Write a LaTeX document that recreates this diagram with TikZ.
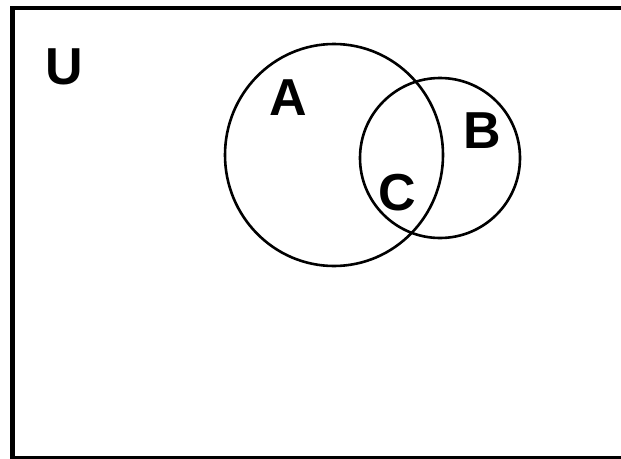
\documentclass[tikz,border=0pt]{standalone}
\usepackage{fontspec}
\setmainfont{Liberation Sans}
\begin{document}
\begin{tikzpicture}[x=1pt,y=-1pt,
  setlabel/.style={font=\fontsize{52}{52}\selectfont\bfseries, inner sep=0pt, anchor=center},
  setcircle/.style={draw=black, line width=2.6pt}]
\useasboundingbox (0,0) rectangle (621,458);
\clip (0,0) rectangle (621,458);
\fill[white] (0,0) rectangle (621,458);
% frame
\draw[line width=5pt] (12.5,460) -- (12.5,8);
\draw[line width=4pt] (10,8) -- (625,8);
\draw[line width=3pt] (10,457.5) -- (625,457.5);
% circles
\draw[setcircle] (334,155) ellipse [x radius=109, y radius=111];
\draw[setcircle] (440,158) ellipse [x radius=80, y radius=80];
% labels
\node[setlabel] (U) at (64.5,67) {U};
\node[setlabel] (A) at (288.5,98) {A};
\node[setlabel] (B) at (482.5,130.5) {B};
\node[setlabel] (C) at (397,192.5) {C};
\end{tikzpicture}
\end{document}
